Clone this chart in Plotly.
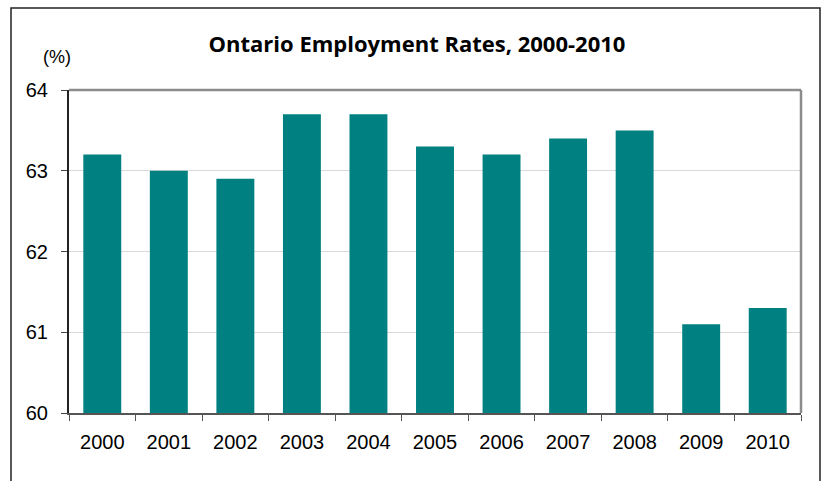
import plotly.graph_objects as go

years = ["2000", "2001", "2002", "2003", "2004", "2005", "2006", "2007", "2008", "2009", "2010"]
rates = [63.2, 63.0, 62.9, 63.7, 63.7, 63.3, 63.2, 63.4, 63.5, 61.1, 61.3]
y_ticks = [60, 61, 62, 63, 64]

W, H = 825, 481
L, R, T, B = 69, 24, 90, 68
pw, ph = W - L - R, H - T - B


def px_x(p):
    return (p - L) / pw


def px_y(p):
    return (H - B - p) / ph


fig = go.Figure(
    go.Bar(
        x=years,
        y=rates,
        marker=dict(color="#008080", line=dict(width=0)),
        width=0.57,
    )
)

fig.update_layout(
    width=W,
    height=H,
    margin=dict(l=L, r=R, t=T, b=B),
    paper_bgcolor="white",
    plot_bgcolor="white",
    showlegend=False,
    title=dict(
        text="<b>Ontario Employment Rates, 2000-2010</b>",
        x=px_x(417), xref="paper", xanchor="center",
        y=1 - 44 / H, yanchor="middle",
        font=dict(family="Open Sans", size=22, color="black"),
    ),
    font=dict(family="Liberation Sans", size=20, color="black"),
    bargap=0.43,
)

fig.update_xaxes(
    type="category",
    showline=True, linecolor="#555555", linewidth=2,
    ticks="outside", tickson="boundaries", ticklen=6, tickcolor="#555555", tickwidth=1,
    ticklabelstandoff=10,
    showgrid=False,
    tickfont=dict(family="Liberation Sans", size=20),
)

fig.update_yaxes(
    range=[60, 64],
    tickvals=y_ticks,
    showline=True, linecolor="#222222", linewidth=2,
    ticks="outside", ticklen=6, tickcolor="#444444", tickwidth=1,
    ticklabelstandoff=9,
    showgrid=True, gridcolor="#d9d9d9", gridwidth=1,
    zeroline=False,
    tickfont=dict(family="Liberation Sans", size=20),
)

# gray frame on the top and right of the plot area
fig.add_shape(type="line", xref="paper", yref="paper", x0=0, x1=1, y0=1, y1=1,
              line=dict(color="#8c8c8c", width=2.5))
fig.add_shape(type="line", xref="paper", yref="paper", x0=1, x1=1, y0=0, y1=1,
              line=dict(color="#8c8c8c", width=2.5))

# outer chart border
fig.add_shape(type="rect", xref="paper", yref="paper",
              x0=px_x(11), x1=px_x(820), y0=px_y(520), y1=px_y(8),
              line=dict(color="#222222", width=1.5), layer="below")

fig.add_annotation(text="(%)", xref="paper", yref="paper",
                   x=px_x(57), y=px_y(57), showarrow=False,
                   xanchor="center", yanchor="middle",
                   font=dict(family="Liberation Sans", size=18, color="black"))

fig.write_html("out.html")
